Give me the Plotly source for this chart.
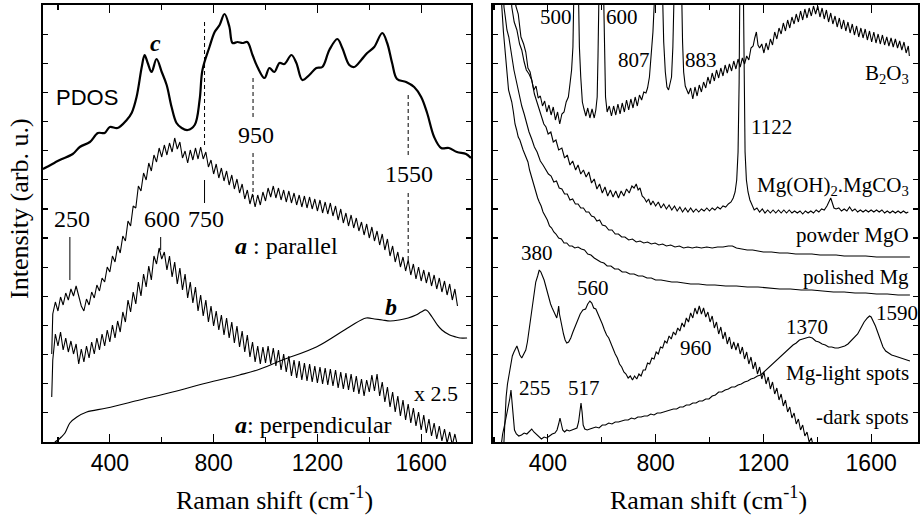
import plotly.graph_objects as go

SERIF = "Liberation Serif, Times New Roman, serif"
SANS = "Liberation Sans, Arial, sans-serif"
Y_TOP = 437.0            # arbitrary intensity units (axis has no labels)
Y_STEP = Y_TOP / 15.0    # unlabeled tick spacing

# ---------------- left panel data ----------------
pdos = [(142, 273), (157, 275), (207, 282), (257, 288), (284, 295), (323, 300), (354, 309), (380, 309),
        (400, 315), (430, 314), (465, 322), (484, 329), (503, 345), (523, 375), (534, 387), (546, 379),
        (561, 370), (580, 383), (600, 370), (619, 357), (638, 335), (657, 319), (677, 314), (700, 312),
        (727, 317), (746, 342), (757, 372), (784, 395), (804, 410), (823, 417), (842, 428), (861, 415),
        (873, 399), (892, 400), (911, 399), (930, 400), (950, 387), (969, 375), (996, 364), (1015, 374),
        (1034, 370), (1054, 379), (1073, 378), (1100, 387), (1119, 379), (1142, 362), (1169, 367),
        (1196, 374), (1219, 375), (1246, 392), (1277, 403), (1296, 394), (1323, 377), (1342, 375),
        (1369, 382), (1392, 389), (1419, 395), (1450, 409), (1469, 399), (1488, 379), (1507, 363),
        (1542, 360), (1573, 355), (1600, 345), (1623, 329), (1650, 305), (1677, 294), (1707, 294),
        (1738, 290), (1773, 288), (1792, 284)]

parallel_start = (176, 88)
parallel_vals = [128, 140, 131, 145, 137, 149, 142, 153, 146, 156, 147, 136, 131, 143, 137, 150, 144, 157, 151, 164,
                 160, 175, 170, 186, 180, 196, 189, 206, 201, 221, 216, 236, 234, 256, 251, 269, 262, 279, 271, 287,
                 280, 294, 285, 297, 287, 299, 290, 304, 293, 300, 284, 291, 279, 292, 282, 294, 283, 295, 283, 290,
                 275, 282, 268, 278, 264, 274, 261, 271, 257, 267, 253, 263, 249, 258, 243, 252, 238, 248, 235, 247,
                 237, 250, 241, 254, 245, 256, 244, 254, 242, 252, 240, 251, 239, 249, 237, 247, 235, 246, 234, 245,
                 233, 243, 231, 242, 229, 240, 228, 239, 226, 236, 222, 233, 219, 229, 216, 227, 214, 224, 211, 220,
                 207, 218, 204, 215, 201, 211, 197, 208, 192, 203, 186, 196, 180, 190, 175, 185, 171, 182, 167, 178,
                 163, 175, 161, 172, 159, 170, 156, 167, 153, 164, 150, 161, 147, 158, 142, 153, 136]

perp_start = (176, 45)
perp_vals = [82, 108, 96, 110, 92, 104, 90, 101, 88, 98, 78, 93, 80, 96, 84, 100, 88, 104, 92, 108,
             96, 112, 100, 117, 104, 121, 110, 130, 120, 142, 130, 150, 138, 160, 146, 168, 155, 176, 162, 186,
             178, 194, 183, 190, 172, 186, 165, 180, 158, 174, 152, 168, 144, 160, 139, 155, 131, 147, 126, 142,
             120, 136, 116, 131, 112, 127, 107, 124, 104, 120, 99, 116, 95, 111, 90, 107, 85, 100, 80, 96,
             78, 95, 79, 96, 78, 94, 76, 92, 72, 88, 70, 86, 66, 82, 64, 81, 62, 79, 61, 78,
             60, 76, 59, 75, 58, 74, 57, 73, 56, 72, 54, 70, 53, 69, 52, 68, 50, 66, 48, 63,
             46, 62, 50, 67, 51, 68, 46, 60, 40, 55, 35, 50, 30, 46, 26, 42, 22, 38, 19, 34,
             16, 30, 12, 27, 9, 23, 6, 19, 3, 16, 1, 13, -1, 10, -3, 8, -4]

curve_b = [(188, 0), (200, 2), (213, 5), (227, 9), (246, 19), (273, 25), (311, 30), (388, 34), (515, 42),
           (642, 50), (773, 59), (900, 67), (969, 72), (1065, 82), (1196, 95), (1323, 115), (1388, 124),
           (1420, 123), (1450, 122), (1480, 121), (1515, 122), (1550, 124), (1580, 127), (1600, 130),
           (1619, 132), (1642, 125), (1660, 118), (1680, 112), (1710, 107), (1734, 105), (1750, 104),
           (1777, 104)]

# marker lines (peak position, top, bottom, style)
left_marks = [(765, 420, 297, "dash"), (765, 262, 239, "solid"), (952, 364, 325, "dash"),
              (952, 289, 245, "dash"), (1550, 347, 285, "dash"), (1550, 249, 180, "dash"),
              (246, 205, 162, "solid"), (596, 205, 192, "solid")]

# ---------------- right panel data ----------------
b2o3 = [(272, 470), (281, 436), (290, 428), (300, 405), (310, 398), (318, 390), (326, 374), (334, 370), (340, 362),
        (348, 352), (356, 356), (364, 344), (372, 346), (380, 336), (388, 341), (396, 330), (404, 337), (412, 327),
        (420, 335), (428, 322), (436, 330), (444, 318), (452, 328), (460, 330), (468, 340), (476, 345), (482, 358),
        (488, 372), (493, 395), (496, 440), (499, 490), (511, 490), (514, 440), (517, 395), (522, 365), (528, 340),
        (534, 333), (541, 326), (548, 334), (556, 324), (564, 333), (572, 324), (578, 332), (583, 345), (586, 385),
        (589, 440), (592, 490), (604, 490), (607, 440), (610, 385), (614, 345), (620, 330), (628, 336), (636, 326),
        (644, 336), (652, 327), (660, 338), (668, 328), (676, 339), (684, 330), (692, 342), (700, 332), (708, 343),
        (716, 334), (724, 345), (732, 336), (740, 347), (748, 342), (756, 350), (764, 349), (770, 354), (777, 365),
        (784, 385), (790, 410), (796, 445), (799, 490), (822, 490), (826, 440), (830, 400), (836, 370), (842, 355),
        (848, 352), (854, 360), (859, 365), (864, 395), (868, 440), (872, 490), (894, 490), (897, 440), (900, 400),
        (904, 370), (910, 356), (916, 352), (922, 348), (930, 354), (938, 343), (946, 355), (954, 346), (962, 357),
        (970, 350), (978, 360), (986, 354), (994, 365), (1002, 358), (1010, 369), (1018, 361), (1026, 372),
        (1034, 364), (1042, 374), (1050, 366), (1058, 377), (1066, 369), (1074, 378), (1082, 371), (1090, 381),
        (1098, 373), (1106, 383), (1114, 375), (1122, 384), (1130, 378), (1138, 386), (1146, 382), (1154, 394),
        (1162, 396), (1168, 404), (1174, 410), (1180, 397), (1186, 394), (1194, 398), (1202, 389), (1210, 399),
        (1218, 392), (1226, 403), (1234, 397), (1242, 410), (1250, 403), (1258, 414), (1266, 408), (1274, 419),
        (1282, 411), (1290, 422), (1298, 414), (1306, 425), (1314, 418), (1322, 428), (1330, 420), (1338, 431),
        (1346, 422), (1354, 433), (1362, 424), (1370, 434), (1378, 426), (1386, 436), (1394, 428), (1402, 436),
        (1410, 425), (1418, 434), (1426, 423), (1434, 432), (1442, 420), (1450, 429), (1458, 418), (1466, 426),
        (1474, 415), (1482, 424), (1490, 413), (1498, 422), (1506, 411), (1514, 420), (1522, 409), (1530, 418),
        (1538, 407), (1546, 416), (1554, 405), (1562, 414), (1570, 404), (1578, 413), (1586, 402), (1594, 411),
        (1602, 400), (1610, 410), (1618, 399), (1626, 408), (1634, 398), (1642, 407), (1650, 397), (1658, 405),
        (1666, 396), (1674, 404), (1682, 395), (1690, 403), (1698, 394), (1706, 401), (1714, 392), (1722, 400),
        (1730, 389), (1738, 396), (1742, 386)]

mgoh = [(262, 460), (266, 435), (275, 420), (285, 412), (295, 398), (303, 392), (312, 380), (320, 372), (330, 368),
        (340, 362), (350, 348), (360, 340), (370, 330), (377, 325), (385, 318), (393, 315), (401, 308), (411, 310),
        (420, 300), (430, 302), (440, 292), (452, 294), (462, 284), (472, 287), (482, 277), (492, 281), (503, 272),
        (512, 277), (522, 268), (532, 272), (542, 265), (552, 270), (562, 259), (572, 263), (582, 253), (592, 258),
        (602, 249), (612, 255), (622, 246), (632, 252), (642, 245), (652, 251), (662, 244), (672, 251), (682, 246),
        (692, 253), (702, 249), (712, 256), (720, 254), (728, 258), (735, 252), (742, 254), (750, 246), (758, 244),
        (766, 240), (774, 243), (782, 237), (790, 241), (800, 236), (810, 240), (820, 234), (830, 238), (840, 233),
        (850, 237), (860, 232), (870, 236), (880, 231), (890, 235), (900, 230), (910, 234), (920, 230), (930, 234),
        (940, 230), (950, 233), (960, 230), (970, 233), (980, 231), (990, 234), (1000, 231), (1010, 234),
        (1020, 232), (1030, 235), (1040, 233), (1050, 236), (1060, 235), (1070, 238), (1080, 240), (1088, 244),
        (1095, 250), (1101, 262), (1106, 290), (1110, 360), (1113, 470), (1125, 470), (1128, 360), (1132, 290),
        (1137, 262), (1143, 250), (1150, 242), (1158, 236), (1166, 232), (1176, 234), (1186, 230), (1196, 233),
        (1206, 229), (1216, 232), (1226, 229), (1236, 232), (1246, 229), (1256, 232), (1266, 229), (1276, 232),
        (1286, 229), (1296, 232), (1306, 229), (1316, 231), (1326, 229), (1336, 231), (1346, 228), (1356, 231),
        (1366, 229), (1376, 231), (1386, 229), (1396, 232), (1406, 230), (1416, 233), (1426, 232), (1436, 236),
        (1444, 240), (1450, 244), (1456, 239), (1462, 234), (1470, 233), (1480, 234), (1490, 231), (1500, 233),
        (1510, 231), (1520, 235), (1530, 231), (1540, 233), (1550, 230), (1560, 232), (1570, 230), (1580, 232),
        (1590, 230), (1600, 232), (1610, 230), (1620, 232), (1630, 230), (1640, 232), (1650, 229), (1660, 231),
        (1670, 229), (1680, 231), (1690, 229), (1700, 231), (1710, 229), (1720, 231), (1730, 229), (1738, 230)]

powder_mgo = [(234, 460), (237, 435), (242, 425), (248, 412), (255, 405), (262, 392), (268, 383), (274, 372),
              (282, 362), (290, 352), (297, 344), (303, 336), (312, 328), (320, 320), (330, 310), (340, 303),
              (350, 295), (360, 290), (372, 281), (382, 277), (392, 272), (402, 268), (412, 266), (422, 260),
              (432, 261), (442, 254), (452, 253), (462, 248), (472, 248), (482, 242), (492, 243), (502, 238),
              (512, 238), (522, 234), (532, 234), (542, 230), (552, 230), (562, 226), (572, 225), (582, 221),
              (592, 222), (602, 217), (614, 216), (626, 212), (638, 212), (650, 208), (662, 208), (674, 205),
              (686, 205), (700, 202), (714, 203), (728, 200), (742, 201), (756, 199), (770, 200), (784, 198),
              (798, 199), (812, 197), (826, 198), (840, 196), (856, 197), (872, 195), (888, 196), (904, 194),
              (920, 195), (936, 194), (952, 195), (970, 194), (990, 195), (1010, 194), (1030, 195), (1050, 195),
              (1070, 196), (1085, 196), (1100, 194), (1120, 193), (1140, 192), (1160, 192), (1180, 191),
              (1200, 190), (1230, 190), (1260, 189), (1290, 189), (1320, 188), (1350, 188), (1380, 188),
              (1410, 187), (1440, 187), (1470, 187), (1500, 186), (1540, 186), (1580, 186), (1620, 185),
              (1660, 185), (1700, 185), (1744, 185)]

polished_mg = [(226, 460), (229, 435), (235, 410), (241, 390), (248, 365), (254, 352), (260, 346), (266, 340),
               (272, 330), (278, 318), (284, 312), (290, 305), (296, 302), (302, 296), (308, 292), (314, 288),
               (320, 283), (326, 280), (332, 272), (338, 266), (344, 260), (350, 255), (356, 248), (362, 244),
               (368, 240), (375, 236), (382, 230), (390, 226), (398, 222), (406, 216), (414, 214), (422, 210),
               (430, 208), (440, 204), (450, 203), (460, 199), (470, 199), (480, 196), (490, 196), (500, 194),
               (512, 195), (524, 193), (536, 192), (548, 188), (560, 187), (572, 184), (584, 182), (596, 180),
               (608, 179), (620, 176), (634, 176), (648, 173), (662, 173), (676, 170), (690, 170), (704, 168),
               (720, 168), (736, 166), (752, 166), (768, 164), (784, 164), (800, 162), (820, 162), (840, 161),
               (860, 160), (880, 160), (900, 159), (930, 158), (960, 158), (990, 157), (1020, 157), (1060, 156),
               (1100, 156), (1140, 155), (1180, 155), (1220, 154), (1260, 153), (1300, 153), (1340, 152),
               (1380, 152), (1420, 151), (1460, 150), (1500, 150), (1540, 149), (1580, 149), (1620, 148),
               (1660, 148), (1700, 147), (1744, 147)]

light_spots = [(236, -5), (240, 20), (245, 45), (250, 58), (255, 66), (262, 78), (268, 86), (274, 90), (280, 94),
               (285, 96), (290, 92), (296, 87), (303, 84), (310, 88), (318, 92), (324, 100), (330, 112), (337, 124),
               (344, 140), (350, 152), (355, 160), (362, 166), (368, 172), (374, 170), (380, 166), (386, 162),
               (392, 156), (398, 150), (404, 143), (410, 138), (416, 134), (422, 130), (428, 126), (433, 124),
               (437, 130), (440, 136), (443, 128), (447, 122), (452, 116), (458, 108), (464, 102), (470, 99),
               (477, 100), (485, 104), (493, 110), (503, 116), (512, 122), (520, 128), (530, 132), (540, 133),
               (548, 138), (556, 141), (563, 139), (570, 134), (578, 133), (586, 128), (594, 124), (602, 118),
               (610, 112), (618, 107), (626, 104), (634, 98), (642, 94), (650, 88), (658, 84), (666, 78), (674, 75),
               (682, 70), (690, 68), (698, 64), (706, 66), (714, 62), (722, 66), (730, 63), (738, 68), (746, 66),
               (754, 72), (762, 72), (770, 79), (778, 78), (786, 84), (794, 83), (802, 90), (810, 88), (818, 95),
               (826, 94), (834, 101), (842, 99), (850, 106), (858, 103), (866, 110), (874, 107), (882, 114),
               (890, 111), (898, 119), (906, 115), (914, 124), (922, 120), (930, 129), (938, 124), (946, 134),
               (954, 128), (962, 136), (970, 128), (978, 134), (986, 125), (994, 130), (1002, 120), (1010, 126),
               (1018, 114), (1026, 120), (1034, 108), (1042, 115), (1050, 103), (1058, 110), (1066, 98),
               (1074, 105), (1082, 93), (1090, 100), (1098, 92), (1106, 99), (1114, 88), (1122, 95), (1130, 83),
               (1138, 90), (1146, 78), (1154, 85), (1162, 73), (1170, 80), (1178, 68), (1186, 75), (1194, 63),
               (1202, 70), (1210, 58), (1218, 65), (1226, 53), (1234, 60), (1242, 48), (1250, 54), (1258, 42),
               (1266, 48), (1274, 36), (1282, 42), (1290, 30), (1298, 35), (1306, 24), (1314, 29), (1322, 18),
               (1330, 23), (1338, 12), (1346, 17), (1354, 6), (1362, 10), (1370, 0), (1378, 4), (1386, -5),
               (1395, -10)]

dark_spots = [(226, -5), (232, 8), (240, 18), (248, 28), (255, 36), (259, 44), (263, 52), (267, 40), (271, 22),
              (276, 12), (283, 8), (292, 6), (302, 7), (312, 9), (322, 8), (332, 11), (340, 13), (348, 10),
              (356, 8), (366, 5), (376, 3), (386, 5), (396, 4), (406, 6), (416, 8), (426, 9), (434, 12), (440, 18),
              (445, 24), (450, 18), (455, 12), (462, 10), (470, 12), (480, 11), (490, 12), (500, 13), (508, 14),
              (514, 20), (519, 32), (523, 39), (527, 30), (531, 17), (537, 13), (546, 12), (556, 13), (566, 14),
              (578, 15), (590, 14), (602, 17), (614, 17), (626, 19), (638, 18), (650, 20), (662, 20), (674, 21),
              (686, 22), (698, 22), (710, 24), (722, 23), (734, 25), (746, 25), (758, 26), (770, 26), (782, 28),
              (794, 27), (806, 29), (818, 29), (830, 30), (842, 31), (854, 32), (866, 33), (878, 33), (890, 35),
              (902, 35), (914, 37), (926, 37), (938, 39), (950, 39), (962, 41), (974, 41), (986, 43), (998, 43),
              (1010, 46), (1022, 47), (1034, 50), (1046, 50), (1058, 52), (1070, 53), (1082, 55), (1094, 55),
              (1106, 57), (1118, 58), (1130, 60), (1142, 61), (1154, 63), (1166, 64), (1178, 66), (1190, 67),
              (1202, 70), (1214, 72), (1226, 75), (1238, 78), (1250, 82), (1262, 85), (1274, 88), (1286, 91),
              (1298, 94), (1310, 97), (1322, 99), (1334, 102), (1346, 103), (1358, 104), (1370, 105), (1382, 104),
              (1394, 101), (1406, 100), (1418, 98), (1430, 97), (1442, 95), (1454, 95), (1466, 94), (1478, 94),
              (1490, 95), (1502, 96), (1514, 98), (1526, 101), (1538, 104), (1550, 108), (1562, 114), (1574, 120),
              (1586, 124), (1594, 126), (1600, 125), (1608, 121), (1616, 116), (1624, 110), (1634, 102),
              (1644, 95), (1654, 91), (1664, 89), (1676, 87), (1688, 86), (1700, 85), (1712, 84), (1724, 83),
              (1736, 82), (1744, 81)]

# ---------------- labels ----------------
left_labels = [("<b><i>c</i></b>", 577, 399, "center", 24, SERIF),
               ("PDOS", 311, 345, "center", 22, SANS),
               ("950", 965, 307, "center", 24, SERIF),
               ("1550", 1553, 268, "center", 24, SERIF),
               ("250", 253, 223, "center", 24, SERIF),
               ("600", 600, 223, "center", 24, SERIF),
               ("750", 769, 223, "center", 24, SERIF),
               ("<b><i>a</i></b> : parallel", 873, 196, "left", 24, SERIF),
               ("<b><i>b</i></b>", 1484, 135, "center", 24, SERIF),
               ("x 2.5", 1750, 49, "right", 22, SERIF),
               ("<b><i>a</i></b>: perpendicular", 873, 17, "left", 24, SERIF)]

right_labels = [("500", 431, 425, "center"), ("600", 674, 425, "center"), ("807", 718, 382, "center"),
                ("883", 970, 382, "center"), ("1122", 1229, 315, "center"),
                ("B<sub>2</sub>O<sub>3</sub>", 1748, 368, "right"),
                ("Mg(OH)<sub>2</sub>.MgCO<sub>3</sub>", 1748, 256, "right"),
                ("powder MgO", 1748, 207, "right"), ("polished Mg", 1748, 165, "right"),
                ("380", 359, 189, "center"), ("560", 566, 154, "center"), ("960", 951, 94, "center"),
                ("255", 352, 54, "center"), ("517", 533, 54, "center"), ("1370", 1363, 115, "center"),
                ("1590", 1612, 129, "left"), ("Mg-light spots", 1748, 69, "right"),
                ("-dark spots", 1748, 25, "right")]

fig = go.Figure()


def add_line(pts, panel, width=1.1, shape="linear", dash="solid"):
    xs = [p[0] for p in pts]
    ys = [p[1] for p in pts]
    fig.add_trace(go.Scatter(x=xs, y=ys, mode="lines",
                             xaxis="x" if panel == 1 else "x2",
                             yaxis="y" if panel == 1 else "y2",
                             line=dict(color="black", width=width, shape=shape, dash=dash),
                             showlegend=False, hoverinfo="skip"))


parallel = [parallel_start] + [(180 + 10 * i, v) for i, v in enumerate(parallel_vals)]
perpendicular = [perp_start] + [(180 + 10 * i, v) for i, v in enumerate(perp_vals)]

add_line(pdos, 1, width=2.2, shape="spline")
add_line(parallel, 1, width=1.1)
add_line(perpendicular, 1, width=1.1)
add_line(curve_b, 1, width=1.2, shape="spline")
for xm, top, bot, sty in left_marks:
    add_line([(xm, top), (xm, bot)], 1, width=1.0, dash="4px,3px" if sty == "dash" else "solid")

for series in (b2o3, mgoh, powder_mgo, polished_mg, light_spots, dark_spots):
    add_line(series, 2, width=1.1)

annotations = []
for text, x, y, anchor, size, fam in left_labels:
    annotations.append(dict(text=text, x=x, y=y, xref="x", yref="y", xanchor=anchor, yanchor="middle",
                            showarrow=False, font=dict(family=fam, size=size, color="black")))
for text, x, y, anchor in right_labels:
    annotations.append(dict(text=text, x=x, y=y, xref="x2", yref="y2", xanchor=anchor, yanchor="middle",
                            showarrow=False, font=dict(family=SERIF, size=21, color="black")))

annotations.append(dict(text="Raman shift (cm<sup>-1</sup>)", x=275 / 920, y=-56 / 437, xref="paper",
                        yref="paper", xanchor="center", yanchor="middle", showarrow=False,
                        font=dict(family=SERIF, size=26, color="black")))
annotations.append(dict(text="Raman shift (cm<sup>-1</sup>)", x=710 / 920, y=-56 / 437, xref="paper",
                        yref="paper", xanchor="center", yanchor="middle", showarrow=False,
                        font=dict(family=SERIF, size=26, color="black")))
annotations.append(dict(text="Intensity (arb. u.)", x=20 / 920, y=234 / 437, xref="paper", yref="paper",
                        xanchor="center", yanchor="middle", textangle=-90, showarrow=False,
                        font=dict(family=SERIF, size=26, color="black")))

xcommon = dict(tick0=400, dtick=400, ticks="inside", ticklen=8, tickwidth=1.2, tickcolor="black",
               minor=dict(tick0=200, dtick=200, ticks="inside", ticklen=5, tickwidth=1.2, tickcolor="black"),
               showline=True, linewidth=1.6, linecolor="black", mirror="ticks", showgrid=False,
               zeroline=False, tickfont=dict(family=SANS, size=23, color="black"))
ycommon = dict(range=[0, Y_TOP], tick0=0, dtick=Y_STEP, ticks="inside", ticklen=5, tickwidth=1.2,
               tickcolor="black", showticklabels=False, showline=True, linewidth=1.6, linecolor="black",
               mirror="ticks", showgrid=False, zeroline=False, domain=[0, 1])

fig.update_layout(
    width=920, height=518,
    margin=dict(l=0, r=0, t=5, b=76),
    paper_bgcolor="white", plot_bgcolor="white",
    xaxis=dict(domain=[43 / 920, 472 / 920], range=[142, 1792], anchor="y", **xcommon),
    yaxis=dict(anchor="x", **ycommon),
    xaxis2=dict(domain=[494 / 920, 1.0], range=[196, 1774], anchor="y2", **xcommon),
    yaxis2=dict(anchor="x2", **ycommon),
    annotations=annotations,
)

fig.write_html("out.html", config={"displayModeBar": False, "staticPlot": True},
               post_script="document.body.style.margin='0';document.body.style.overflow='hidden';")
